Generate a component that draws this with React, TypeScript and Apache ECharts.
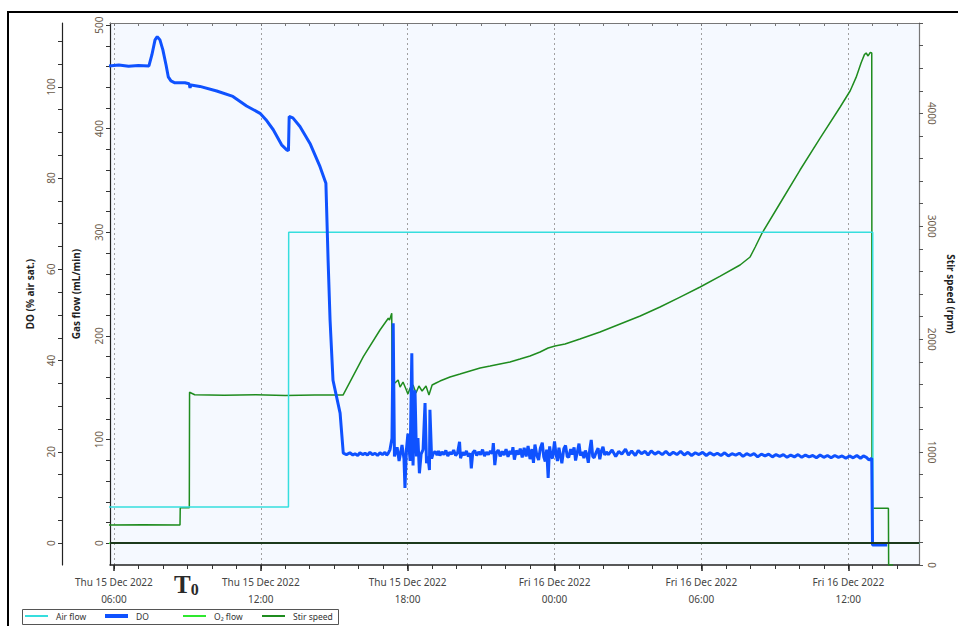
import React, { useEffect, useRef } from "react";
import * as echarts from "echarts";

// Time axis is expressed in hours from Thu 15 Dec 2022 00:00
const X_MIN = 5.84;
const X_MAX = 38.89;

const hourTicks: number[] = Array.from({ length: 33 }, (_, i) => 6 + i);
const timeLabelTicks: number[] = [6, 12, 18, 24, 30, 36];

const gasTicks: number[] = Array.from({ length: 26 }, (_, i) => i * 20);
const gasLabels: number[] = [0, 100, 200, 300, 400, 500];
const doTicks: number[] = Array.from({ length: 23 }, (_, i) => i * 5);
const doLabels: number[] = [0, 20, 40, 60, 80, 100];
const stirTicks: number[] = Array.from({ length: 25 }, (_, i) => i * 200);
const stirLabels: number[] = [0, 1000, 2000, 3000, 4000];

// Air flow, mL/min
const airFlow: [number, number][] = [
  [5.8, 35], [13.13, 35], [13.14, 300], [37.0, 300], [37.01, 0], [38.9, 0],
];

// O2 flow, mL/min
const o2Flow: [number, number][] = [
  [5.8, 0], [38.9, 0],
];

// Dissolved oxygen, % air saturation
const dissolvedO2: [number, number][] = [
  [5.8, 104.6], [6.2, 104.8], [6.6, 104.5], [7.0, 104.7], [7.43, 104.6],
  [7.55, 107.0], [7.68, 110.3], [7.77, 111.0], [7.88, 110.3], [8.0, 108.1],
  [8.13, 104.8], [8.22, 102.2], [8.33, 101.3], [8.49, 100.9], [8.9, 100.9],
  [9.07, 100.7], [9.11, 99.8], [9.15, 100.4], [9.51, 100.1], [10.2, 99.1],
  [10.86, 97.9], [11.42, 95.8], [11.97, 94.2], [12.21, 92.8], [12.51, 90.6],
  [12.85, 87.3], [13.06, 86.2], [13.13, 86.0], [13.16, 93.5], [13.31, 93.2],
  [13.6, 91.3], [14.01, 87.6], [14.42, 82.5], [14.66, 78.9], [14.75, 62.0],
  [14.83, 48.9], [14.95, 35.7], [15.24, 28.5], [15.37, 19.7],
  [15.5, 19.4], [15.64, 19.8], [15.76, 19.3], [15.85, 19.6], [15.96, 19.2],
  [16.05, 19.8], [16.16, 19.4], [16.26, 19.7], [16.36, 19.3], [16.46, 19.9],
  [16.56, 19.4], [16.67, 19.7], [16.77, 19.2], [16.87, 19.8], [16.97, 19.4],
  [17.07, 19.9], [17.14, 19.3], [17.2, 19.6], [17.28, 20.5],
  [17.36, 23.0], [17.41, 48.2], [17.46, 19.0], [17.57, 21.0], [17.65, 18.0],
  [17.77, 21.5], [17.85, 18.5], [17.89, 12.1], [17.95, 20.5], [18.01, 24.0],
  [18.1, 18.0], [18.17, 41.6], [18.22, 17.0], [18.3, 33.5], [18.36, 19.0],
  [18.42, 23.0], [18.48, 15.3], [18.55, 19.5], [18.63, 20.5], [18.71, 30.7],
  [18.77, 17.5], [18.83, 19.0], [18.89, 16.0], [18.91, 29.2], [18.98, 18.5],
  [19.04, 19.6], [19.12, 20.1], [19.2, 19.3], [19.26, 20.2],
  [19.32, 19.2], [19.4, 20.0], [19.48, 19.4], [19.56, 20.3], [19.64, 19.1],
  [19.72, 19.9], [19.8, 19.5], [19.88, 20.4], [19.96, 19.2], [20.04, 19.8],
  [20.12, 22.2], [20.16, 18.6], [20.24, 19.9], [20.32, 19.3], [20.4, 20.2],
  [20.48, 19.0], [20.56, 19.7], [20.6, 16.4], [20.66, 19.8], [20.74, 20.3],
  [20.82, 19.2], [20.9, 20.0], [20.98, 19.4], [21.06, 20.5], [21.14, 19.1],
  [21.22, 19.9], [21.3, 19.4], [21.38, 20.2], [21.46, 19.6], [21.5, 21.9],
  [21.56, 17.1], [21.62, 19.8], [21.7, 20.4], [21.78, 19.0], [21.86, 20.1],
  [21.94, 19.3], [22.02, 20.6], [22.1, 18.9], [22.18, 20.2], [22.26, 19.5],
  [22.3, 21.0], [22.36, 18.3], [22.44, 20.3], [22.52, 19.4], [22.6, 20.7],
  [22.68, 18.8], [22.76, 20.9], [22.84, 19.0], [22.92, 21.3], [23.0, 18.4],
  [23.08, 20.6], [23.14, 17.6], [23.2, 21.6], [23.28, 19.2], [23.35, 18.2],
  [23.42, 20.8], [23.5, 22.0], [23.56, 18.9], [23.62, 17.9], [23.68, 20.5],
  [23.74, 14.3], [23.8, 21.2], [23.86, 19.0], [23.92, 18.6], [24.0, 22.3],
  [24.06, 19.5], [24.12, 18.0], [24.18, 20.9], [24.24, 19.2], [24.3, 17.5],
  [24.38, 20.7], [24.45, 21.4], [24.52, 19.0], [24.58, 18.8], [24.66, 20.6],
  [24.72, 19.4], [24.8, 21.0], [24.86, 18.1], [24.94, 20.2], [25.0, 21.8],
  [25.06, 19.2], [25.14, 20.0], [25.2, 18.6], [25.26, 20.3], [25.32, 19.4],
  [25.38, 17.6], [25.44, 20.5], [25.5, 22.6], [25.56, 19.0], [25.62, 18.7],
  [25.7, 19.9], [25.78, 20.8], [25.85, 18.4], [25.92, 20.3], [25.98, 21.1],
  [26.05, 19.3], [26.12, 20.0],
  [26.2, 19.4], [26.35, 20.4], [26.5, 19.0], [26.62, 20.1], [26.75, 19.5],
  [26.9, 20.6], [27.02, 19.3], [27.15, 20.2], [27.3, 19.2], [27.42, 20.3],
  [27.55, 19.6], [27.7, 20.1], [27.82, 19.3], [27.95, 20.2], [28.1, 19.5],
  [28.25, 20.0], [28.4, 19.4], [28.55, 20.1], [28.7, 19.3], [28.85, 19.9],
  [29.0, 19.4], [29.15, 20.1], [29.3, 19.3], [29.45, 19.9], [29.6, 19.2],
  [29.75, 19.8], [29.9, 19.4], [30.05, 19.9], [30.2, 19.2], [30.35, 19.8],
  [30.5, 19.3], [30.65, 19.7], [30.8, 19.2], [30.95, 19.8], [31.1, 19.1],
  [31.25, 19.6], [31.4, 19.3], [31.55, 19.7], [31.7, 19.0], [31.85, 19.6],
  [32.0, 19.2], [32.15, 19.6], [32.3, 18.9], [32.45, 19.5], [32.6, 19.1],
  [32.75, 19.5], [32.9, 18.9], [33.05, 19.4], [33.2, 19.0], [33.35, 19.4],
  [33.5, 18.8], [33.65, 19.3], [33.8, 18.9], [33.95, 19.4], [34.1, 18.8],
  [34.25, 19.3], [34.4, 18.9], [34.55, 19.2], [34.7, 18.7], [34.85, 19.3],
  [35.0, 18.8], [35.15, 19.2], [35.3, 18.7], [35.45, 19.2], [35.6, 18.8],
  [35.75, 19.1], [35.9, 18.6], [36.05, 19.1], [36.2, 18.7], [36.35, 19.2],
  [36.5, 18.6], [36.62, 19.1], [36.74, 18.8], [36.85, 18.2], [36.96, 18.6],
  [36.99, -0.4], [37.59, -0.4],
];

// Stirrer speed, rpm
const stirSpeed: [number, number][] = [
  [5.8, 354], [7.2, 356], [8.7, 354], [8.71, 507], [9.08, 507], [9.09, 1530],
  [9.3, 1508], [10.5, 1503], [11.8, 1507], [13.0, 1502], [14.2, 1506],
  [15.36, 1505], [16.19, 1845], [16.87, 2081], [17.21, 2185], [17.26, 2170],
  [17.35, 2229], [17.36, 1638], [17.48, 1612], [17.61, 1638], [17.69, 1576],
  [17.81, 1620], [17.93, 1559], [18.01, 1514], [18.1, 1568], [18.22, 1594],
  [18.34, 1523], [18.46, 1585], [18.59, 1541], [18.75, 1585], [18.87, 1505],
  [19.0, 1594], [19.16, 1612], [19.32, 1629], [19.73, 1665], [20.14, 1691],
  [20.55, 1718], [20.96, 1745], [21.37, 1762], [21.77, 1780], [22.18, 1798],
  [22.59, 1824], [23.0, 1851], [23.41, 1886], [23.74, 1922], [24.02, 1939],
  [24.43, 1957], [25.04, 2001], [25.86, 2063], [26.68, 2134], [27.5, 2205],
  [28.31, 2285], [29.13, 2373], [29.95, 2462], [30.77, 2559], [31.58, 2657],
  [31.99, 2728], [32.2, 2816], [32.48, 2940], [33.22, 3206], [34.03, 3498],
  [34.85, 3781], [35.67, 4056], [36.08, 4200], [36.32, 4318], [36.53, 4450],
  [36.66, 4520], [36.73, 4534], [36.81, 4508], [36.9, 4540], [36.96, 4534],
  [36.97, 502], [37.64, 502], [37.65, 0], [37.83, 0],
];

const FONT = "'Noto Sans', 'DejaVu Sans', sans-serif";
const TICK_TEXT = "#6b5b4b";

function timeLabel(v: number): string {
  const day = v < 24 ? "Thu 15 Dec 2022" : "Fri 16 Dec 2022";
  const hh = Math.round(v % 24);
  return `${day}\n${String(hh).padStart(2, "0")}:00`;
}

function legendBlock(name: string, left: number, height: number) {
  return {
    data: [{ name, icon: "rect" }],
    left,
    top: 611.5,
    padding: 0,
    itemWidth: 23,
    itemHeight: height,
    selectedMode: false,
    textStyle: { fontSize: 8.5, color: "#333", fontFamily: FONT, padding: [0, 0, 0, 3] },
  };
}

export default function App() {
  const ref = useRef<HTMLDivElement>(null);

  useEffect(() => {
    if (!ref.current) return;
    const chart = echarts.init(ref.current, undefined, { renderer: "svg" });

    const xBase = {
      type: "value" as const,
      min: X_MIN,
      max: X_MAX,
      gridIndex: 0,
    };

    chart.setOption({
      animation: false,
      backgroundColor: "#ffffff",
      grid: {
        left: 110,
        top: 23,
        right: 39,
        bottom: 61,
        show: true,
        backgroundColor: "#f5f9ff",
        borderWidth: 0,
        outerBoundsMode: "none",
        containLabel: false,
      },
      legend: [
        legendBlock("Air flow", 25, 2),
        legendBlock("DO", 105, 4),
        legendBlock("O₂ flow", 183, 2),
        legendBlock("Stir speed", 262, 2),
      ],
      xAxis: [
        {
          ...xBase,
          position: "bottom",
          axisLine: { show: true, onZero: false, lineStyle: { color: "#222", width: 1.5 } },
          axisTick: { show: true, customValues: hourTicks, length: 4, lineStyle: { color: "#333" } },
          axisLabel: {
            customValues: timeLabelTicks,
            formatter: timeLabel,
            color: "#444",
            fontSize: 10,
            lineHeight: 17,
            margin: 8,
            fontFamily: FONT,
          },
          splitLine: { show: false },
        },
        {
          ...xBase,
          position: "bottom",
          axisLine: { show: false, onZero: false },
          axisTick: { show: true, customValues: timeLabelTicks, length: 6, lineStyle: { color: "#222", width: 1.5 } },
          axisLabel: { show: false },
          splitLine: { show: true, lineStyle: { color: "#a0a0a0", type: [2, 3], width: 1 } },
        },
        {
          ...xBase,
          position: "top",
          axisLine: { show: true, onZero: false, lineStyle: { color: "#777", width: 1 } },
          axisTick: { show: true, inside: true, customValues: hourTicks, length: 3, lineStyle: { color: "#777" } },
          axisLabel: { show: false },
          splitLine: { show: false },
        },
      ],
      yAxis: [
        {
          type: "value",
          position: "left",
          min: -21,
          max: 502,
          name: "Gas flow (mL/min)",
          nameLocation: "middle",
          nameRotate: 90,
          nameGap: 29,
          nameTextStyle: { fontSize: 10, fontWeight: "bold", color: "#222", fontFamily: FONT },
          axisLine: { show: true, onZero: false, lineStyle: { color: "#222", width: 1.2 } },
          axisTick: { show: true, customValues: gasTicks, length: 4, lineStyle: { color: "#333" } },
          axisLabel: { customValues: gasLabels, rotate: 90, fontSize: 10, color: TICK_TEXT, fontFamily: FONT, margin: 6 },
          splitLine: { show: false },
        },
        {
          type: "value",
          position: "left",
          offset: 48,
          min: -4.8,
          max: 114,
          name: "DO (% air sat.)",
          nameLocation: "middle",
          nameRotate: 90,
          nameGap: 27,
          nameTextStyle: { fontSize: 10, fontWeight: "bold", color: "#222", fontFamily: FONT },
          axisLine: { show: true, onZero: false, lineStyle: { color: "#222", width: 1.2 } },
          axisTick: { show: true, customValues: doTicks, length: 4, lineStyle: { color: "#333" } },
          axisLabel: { customValues: doLabels, rotate: 90, fontSize: 10, color: TICK_TEXT, fontFamily: FONT, margin: 6 },
          splitLine: { show: false },
        },
        {
          type: "value",
          position: "right",
          min: 0,
          max: 4800,
          name: "Stir speed (rpm)",
          nameLocation: "middle",
          nameRotate: -90,
          nameGap: 27,
          nameTextStyle: { fontSize: 10, fontWeight: "bold", color: "#222", fontFamily: FONT },
          axisLine: { show: true, onZero: false, lineStyle: { color: "#777", width: 1.2 } },
          axisTick: { show: true, customValues: stirTicks, length: 4, lineStyle: { color: "#555" } },
          axisLabel: {
            customValues: stirLabels,
            rotate: -90,
            fontSize: 10,
            color: TICK_TEXT,
            fontFamily: FONT,
            margin: 8,
            formatter: (v: number) => String(v),
          },
          splitLine: { show: false },
        },
      ],
      series: [
        {
          name: "O₂ flow",
          type: "line",
          data: o2Flow,
          xAxisIndex: 0,
          yAxisIndex: 0,
          color: "#2ee82e",
          symbol: "none",
          lineStyle: { width: 1.5 },
          markLine: {
            silent: true,
            symbol: ["none", "none"],
            label: { show: false },
            lineStyle: { color: "#1c3a1c", width: 2, type: "solid" },
            data: [{ yAxis: 0 }],
          },
        },
        {
          name: "Stir speed",
          type: "line",
          data: stirSpeed,
          xAxisIndex: 0,
          yAxisIndex: 2,
          color: "#1f8c1f",
          symbol: "none",
          lineStyle: { width: 1.5 },
        },
        {
          name: "Air flow",
          type: "line",
          data: airFlow,
          xAxisIndex: 0,
          yAxisIndex: 0,
          color: "#36dede",
          symbol: "none",
          lineStyle: { width: 1.5 },
        },
        {
          name: "DO",
          type: "line",
          data: dissolvedO2,
          xAxisIndex: 0,
          yAxisIndex: 1,
          color: "#0f52ff",
          symbol: "none",
          lineStyle: { width: 3 },
        },
      ],
      graphic: [
        {
          type: "rect",
          shape: { x: 8, y: 12, width: 1000, height: 700 },
          style: { fill: "none", stroke: "#000", lineWidth: 2 },
          silent: true,
        },
        {
          type: "rect",
          shape: { x: 22.5, y: 609.5, width: 316, height: 15 },
          style: { fill: "none", stroke: "#555", lineWidth: 1 },
          silent: true,
        },
        {
          type: "text",
          x: 174,
          y: 571,
          style: {
            text: "{t|T}{s|0}",
            rich: {
              t: { fontSize: 25, fontWeight: "bold", fontFamily: "'Liberation Serif', serif", fill: "#2a2a2a" },
              s: { fontSize: 16, fontWeight: "bold", fontFamily: "'Liberation Serif', serif", fill: "#2a2a2a", padding: [10, 0, 0, 0] },
            },
          },
          silent: true,
        },
      ],
    });

    return () => chart.dispose();
  }, []);

  return (
    <div
      ref={ref}
      style={{ position: "absolute", left: 0, top: 0, width: 958, height: 626 }}
    />
  );
}
